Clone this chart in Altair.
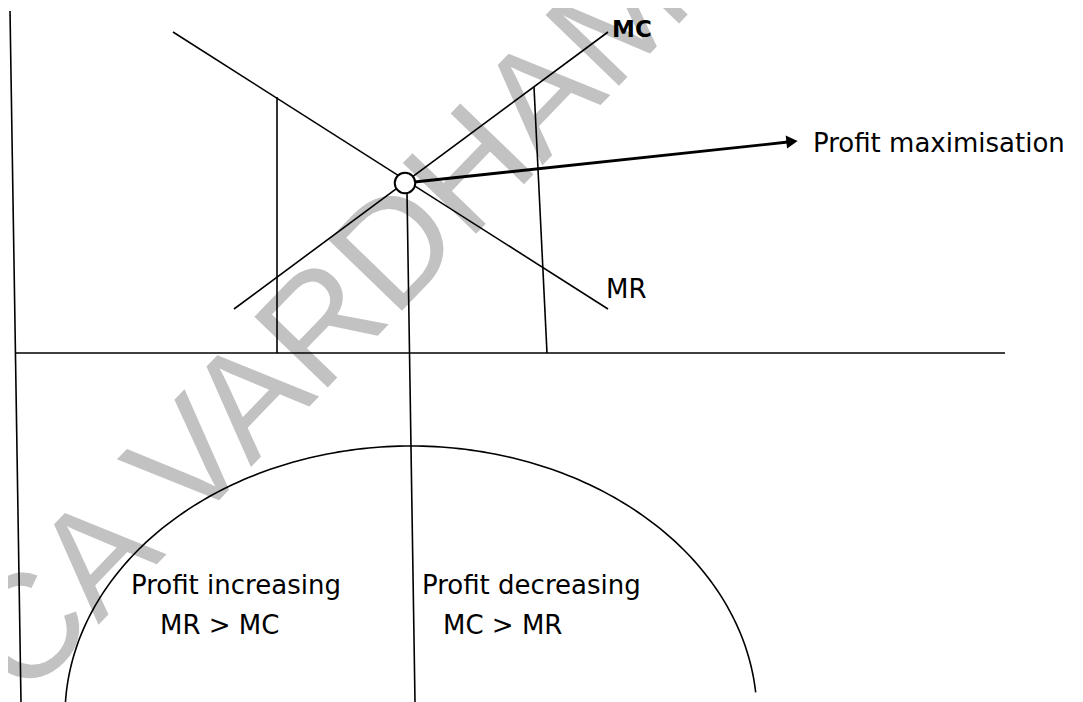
import altair as alt
import pandas as pd

# Plot area maps 1:1 onto picture pixels (page margin 8px)
W, H = 1067, 694
X0, Y0 = 8, 8

# Straight segments of the diagram (picture coordinates)
seg_name = ["y_axis", "x_axis", "MR", "MC", "left_drop", "right_drop", "mid_drop"]
seg_x1 = [10, 15, 173, 234, 277, 534, 407]
seg_y1 = [11, 353, 32, 309, 97, 87, 193]
seg_x2 = [21, 1005, 608, 608, 277, 547, 415]
seg_y2 = [702, 353, 309, 32, 353, 353, 702]

# Arrow to "Profit maximisation"
arrow_x1, arrow_y1, arrow_x2, arrow_y2 = [405], [183], [788], [142]
head_x, head_y = [792], [141.5]

# Equilibrium point
point_x, point_y = [405], [183]

# Profit hill (half ellipse): centre, radii, start/end angles (deg)
ell_cx, ell_cy, ell_a, ell_b = 411, 716, 346, 270
ell_t0, ell_t1 = 5, 181

# Labels
label_text = ["MR", "Profit maximisation", "Profit increasing", "MR > MC",
              "Profit decreasing", "MC > MR"]
label_x = [606, 813, 131, 160, 422, 443]
label_y = [298, 152, 594, 634, 594, 634]
mc_text, mc_x, mc_y = ["MC"], [612], [37]

watermark = ["CA VARDHAMAN"]
wm_x, wm_y = [24], [702]

FONT = "DejaVu Sans"

xs = alt.Scale(domain=[X0, X0 + W], nice=False, zero=False)
ys = alt.Scale(domain=[Y0, Y0 + H], reverse=True, nice=False, zero=False)

seg_df = pd.DataFrame({"name": seg_name, "x1": seg_x1, "y1": seg_y1,
                       "x2": seg_x2, "y2": seg_y2})
arrow_df = pd.DataFrame({"x1": arrow_x1, "y1": arrow_y1, "x2": arrow_x2, "y2": arrow_y2})
head_df = pd.DataFrame({"x": head_x, "y": head_y})
point_df = pd.DataFrame({"x": point_x, "y": point_y})
label_df = pd.DataFrame({"text": label_text, "x": label_x, "y": label_y})
mc_df = pd.DataFrame({"text": mc_text, "x": mc_x, "y": mc_y})
wm_df = pd.DataFrame({"text": watermark, "x": wm_x, "y": wm_y})

wm = alt.Chart(wm_df).mark_text(
    angle=314, fontSize=148, color="#c2c2c2", align="left", baseline="alphabetic",
    font="Liberation Sans", fontWeight="normal"
).encode(x=alt.X("x:Q", scale=xs, axis=None), y=alt.Y("y:Q", scale=ys, axis=None),
         text="text:N")

segs = alt.Chart(seg_df).mark_rule(color="black", strokeWidth=1.6, clip=True).encode(
    x=alt.X("x1:Q", scale=xs, axis=None), y=alt.Y("y1:Q", scale=ys, axis=None),
    x2="x2:Q", y2="y2:Q")

arrow = alt.Chart(arrow_df).mark_rule(color="black", strokeWidth=2.8).encode(
    x=alt.X("x1:Q", scale=xs, axis=None), y=alt.Y("y1:Q", scale=ys, axis=None),
    x2="x2:Q", y2="y2:Q")

head = alt.Chart(head_df).mark_point(
    shape="triangle-right", filled=True, color="black", size=170, angle=354, opacity=1
).encode(x=alt.X("x:Q", scale=xs, axis=None), y=alt.Y("y:Q", scale=ys, axis=None))

ellipse = alt.Chart(alt.sequence(ell_t0, ell_t1, 1, as_="t")).transform_calculate(
    ex=f"{ell_cx} + {ell_a} * cos(datum.t * PI / 180)",
    ey=f"{ell_cy} - {ell_b} * sin(datum.t * PI / 180)",
).mark_line(color="black", strokeWidth=1.6, clip=True).encode(
    x=alt.X("ex:Q", scale=xs, axis=None), y=alt.Y("ey:Q", scale=ys, axis=None),
    order="t:Q")

point = alt.Chart(point_df).mark_point(
    shape="circle", filled=True, fill="white", stroke="black", strokeWidth=2,
    size=420, opacity=1
).encode(x=alt.X("x:Q", scale=xs, axis=None), y=alt.Y("y:Q", scale=ys, axis=None))

labels = alt.Chart(label_df).mark_text(
    align="left", baseline="alphabetic", fontSize=26, font=FONT, color="black"
).encode(x=alt.X("x:Q", scale=xs, axis=None), y=alt.Y("y:Q", scale=ys, axis=None),
         text="text:N")

mc = alt.Chart(mc_df).mark_text(
    align="left", baseline="alphabetic", fontSize=23, font=FONT, fontWeight="bold",
    color="black"
).encode(x=alt.X("x:Q", scale=xs, axis=None), y=alt.Y("y:Q", scale=ys, axis=None),
         text="text:N")

chart = alt.layer(wm, segs, ellipse, arrow, head, point, labels, mc).properties(
    width=W, height=H, autosize=alt.AutoSizeParams(type="none"), padding=0,
    background="white"
).configure_view(stroke=None)

chart.save("out.html", embed_options={"renderer": "svg", "actions": False})
